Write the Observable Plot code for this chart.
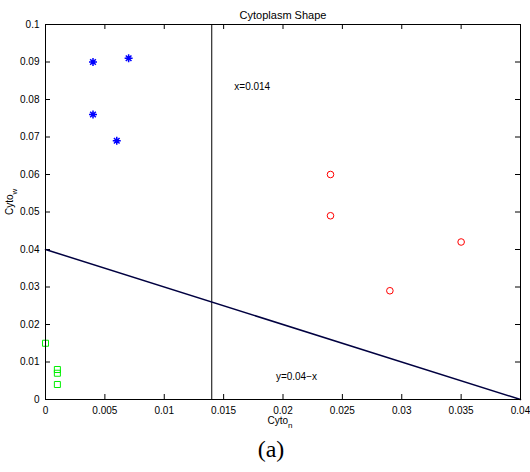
<!DOCTYPE html>
<html><head><meta charset="utf-8">
<script src="https://cdn.jsdelivr.net/npm/d3@7"></script>
<script src="https://cdn.jsdelivr.net/npm/@observablehq/plot@0.6"></script>
<style>body{margin:0;background:#fff;} svg{font-family:"Liberation Sans",Arial,sans-serif;}</style>
</head><body><div id="chart"></div>
<script>
// Data
const starX = [0.004, 0.007, 0.004, 0.006];
const starY = [0.090, 0.091, 0.076, 0.069];
const circleX = [0.024, 0.024, 0.035, 0.029];
const circleY = [0.060, 0.049, 0.042, 0.029];
const squareX = [0, 0.001, 0.001, 0.001];
const squareY = [0.015, 0.008, 0.007, 0.004];
const boundaryX = [0, 0.04];
const boundaryY = [0.04, 0];
const threshold = 0.014;
const xTicks = [0, 0.005, 0.01, 0.015, 0.02, 0.025, 0.03, 0.035, 0.04];
const yTicks = [0, 0.01, 0.02, 0.03, 0.04, 0.05, 0.06, 0.07, 0.08, 0.09, 0.1];
const title = "Cytoplasm Shape";
const caption = "(a)";
const annX = [{x: 0.0159, y: 0.0835, text: "x=0.014"}, {x: 0.0194, y: 0.0061, text: "y=0.04\u2212x"}];

const W = 530, H = 472, mL = 45, mR = 10, mT = 24, mB = 73;
const innerH = H - mT - mB, innerW = W - mL - mR;

const star = {draw(ctx, size) {
  const r = Math.sqrt(size / Math.PI);
  for (let i = 0; i < 4; i++) {
    const a = i * Math.PI / 4;
    ctx.moveTo(-r * Math.cos(a), -r * Math.sin(a));
    ctx.lineTo(r * Math.cos(a), r * Math.sin(a));
  }
}};

const pts = (xs, ys) => xs.map((x, i) => ({x, y: ys[i]}));

const plot = Plot.plot({
  width: W, height: H,
  marginLeft: mL, marginRight: mR, marginTop: mT, marginBottom: mB,
  style: {fontFamily: "Liberation Sans, Arial, sans-serif", fontSize: "10px", background: "#fff"},
  x: {domain: [0, 0.04], ticks: xTicks},
  y: {domain: [0, 0.1], ticks: yTicks},
  marks: [
    Plot.axisX(xTicks, {tickSize: 0, tickPadding: 7, label: null, fontSize: 10, tickFormat: d => String(d)}),
    Plot.axisY(yTicks, {tickSize: 0, tickPadding: 6, label: null, fontSize: 10, tickFormat: d => String(d)}),
    // inward ticks on all four sides
    Plot.tickX(xTicks, {x: d => d, insetTop: innerH - 5, stroke: "black"}),
    Plot.tickX(xTicks, {x: d => d, insetBottom: innerH - 5, stroke: "black"}),
    Plot.tickY(yTicks, {y: d => d, insetRight: innerW - 5, stroke: "black"}),
    Plot.tickY(yTicks, {y: d => d, insetLeft: innerW - 5, stroke: "black"}),
    Plot.ruleX([threshold], {stroke: "black", strokeWidth: 1}),
    Plot.line(pts(boundaryX, boundaryY), {x: "x", y: "y", stroke: "#000040", strokeWidth: 1.5}),
    Plot.dot(pts(starX, starY), {x: "x", y: "y", symbol: star, r: 4, stroke: "#0000ff", strokeWidth: 1.5, fill: "none"}),
    Plot.dot(pts(circleX, circleY), {x: "x", y: "y", symbol: "circle", r: 3.3, stroke: "#ff0000", strokeWidth: 1, fill: "none"}),
    Plot.dot(pts(squareX, squareY), {x: "x", y: "y", symbol: "square", r: 3.4, stroke: "#00ee00", strokeWidth: 1, fill: "none"}),
    Plot.text(annX, {x: "x", y: "y", text: "text", textAnchor: "start", fontSize: 10, fill: "black"}),
    Plot.frame({stroke: "black", strokeWidth: 1}),
    Plot.text([title], {frameAnchor: "top", dy: -13, fontSize: 11, fill: "black", className: "ttl"}),
    Plot.text(["Cyto"], {frameAnchor: "bottom", dx: -3, dy: 24, fontSize: 10, fill: "black", className: "xlab"}),
    Plot.text(["Cyto"], {frameAnchor: "left", dx: -36, dy: 3, rotate: -90, fontSize: 10, fill: "black", className: "ylab"}),
    Plot.text([caption], {frameAnchor: "bottom", dx: -12, dy: 57, fontSize: 24, fontFamily: "Liberation Serif, DejaVu Serif, serif", fill: "black"})
  ]
});

// subscripts on axis labels
d3.select(plot).selectAll("g.xlab text").append("tspan").attr("dy", "4").attr("font-size", "8").text("n");
d3.select(plot).selectAll("g.ylab text").append("tspan").attr("dy", "4").attr("font-size", "8").text("w");

document.getElementById("chart").appendChild(plot);
</script></body></html>
